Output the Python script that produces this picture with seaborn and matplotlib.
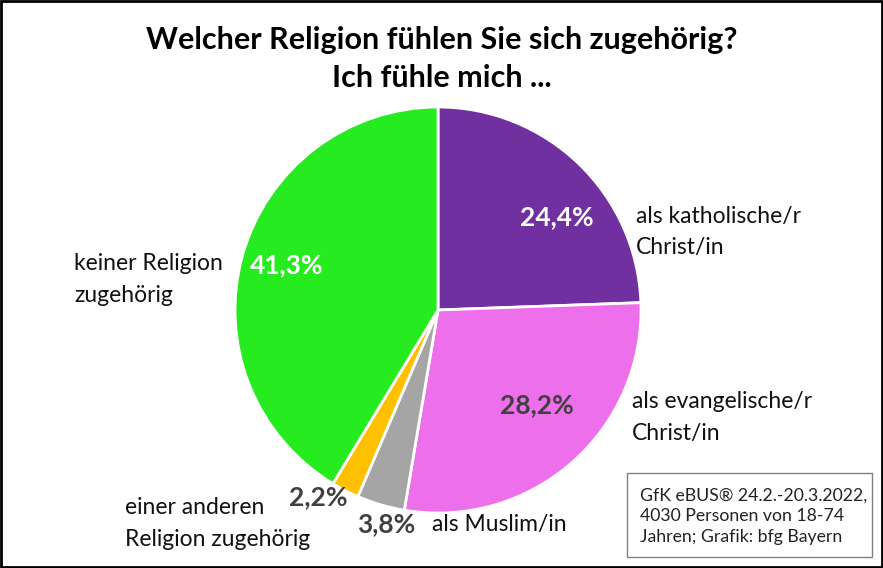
import matplotlib.pyplot as plt
from matplotlib.patches import Rectangle
import seaborn as sns

# Data (GfK eBUS 2022)
categories = ['als katholische/r\nChrist/in', 'als evangelische/r\nChrist/in', 'als Muslim/in',
              'einer anderen\nReligion zugehörig', 'keiner Religion\nzugehörig']
values = [24.4, 28.2, 3.8, 2.2, 41.3]
pct_labels = ['24,4%', '28,2%', '3,8%', '2,2%', '41,3%']

colors = ['#7030A0', '#EE6FEB', '#A5A5A5', '#FFC000', '#26EB1F']
pct_colors = ['white', '#404040', '#404040', '#404040', 'white']

# label positions in pie-radius units (top of first line for categories)
pct_pos = [(0.586, 0.458), (0.488, -0.468), (-0.256, -1.054), (-0.591, -0.921), (-0.744, 0.222)]
cat_pos = [(0.975, 0.463), (0.956, -0.453), (-0.03, -1.059), (-1.542, -0.975), (-1.793, 0.227)]
line_step = 0.155

sns.set_theme(style='white')
plt.rcParams['font.family'] = ['Lato', 'DejaVu Sans']

fig = plt.figure(figsize=(8.83, 5.68), dpi=100)
W, H = 883, 568
cx, cy, r = 438, 310, 203
ax = fig.add_axes([(cx - r) / W, (H - cy - r) / H, 2 * r / W, 2 * r / H])

ax.pie(values, colors=colors, startangle=90, counterclock=False, radius=1,
       wedgeprops=dict(edgecolor='white', linewidth=2))
ax.set_xlim(-1, 1)
ax.set_ylim(-1, 1)
ax.set_aspect('equal')
ax.axis('off')

for lab, (x, y), c in zip(pct_labels, pct_pos, pct_colors):
    ax.text(x, y, lab, ha='center', va='center', fontsize=19, fontweight='bold', color=c, clip_on=False)

# category labels, one text per line
for lab, (x, y) in zip(categories, cat_pos):
    for k, line in enumerate(lab.split('\n')):
        ax.text(x, y - k * line_step, line, ha='left', va='center', fontsize=16.5,
                color='#111111', clip_on=False)

fig.text(0.5, 1 - 40 / H, 'Welcher Religion fühlen Sie sich zugehörig?', ha='center', va='center',
         fontsize=22, fontweight='bold', color='black')
fig.text(0.5, 1 - 78 / H, 'Ich fühle mich ...', ha='center', va='center',
         fontsize=22, fontweight='bold', color='black')

# source box
fig.patches.append(Rectangle((627 / W, 1 - 557 / H), 245 / W, 84 / H, transform=fig.transFigure,
                             facecolor='white', edgecolor='#808080', linewidth=1))
fig.text(640 / W, 1 - 516 / H, 'GfK eBUS® 24.2.-20.3.2022,\n4030 Personen von 18-74\nJahren; Grafik: bfg Bayern',
         ha='left', va='center', fontsize=12.7, color='#222222', linespacing=1.35)

# outer frame
fig.patches.append(Rectangle((0.001, 0.001), 0.998, 0.998, transform=fig.transFigure,
                             facecolor='none', edgecolor='black', linewidth=2))

fig.savefig('out.png', dpi=100)
